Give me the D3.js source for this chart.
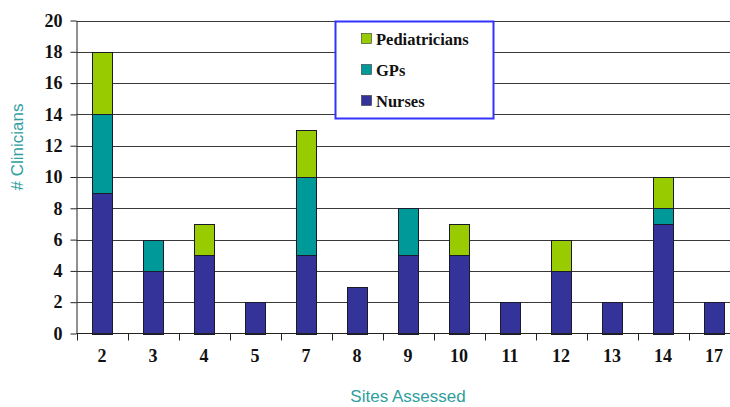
<!DOCTYPE html>
<html><head><meta charset="utf-8">
<script src="https://cdn.jsdelivr.net/npm/d3@7"></script>
<style>body{margin:0;background:#fff}svg{display:block}</style>
</head><body>
<script>
const sites = ["2","3","4","5","7","8","9","10","11","12","13","14","17"];
const nurses = [9,4,5,2,5,3,5,5,2,4,2,7,2];
const gps = [5,2,0,0,5,0,3,0,0,0,0,1,0];
const pediatricians = [4,0,2,0,3,0,0,2,0,2,0,2,0];
const seriesNames = ["Nurses","GPs","Pediatricians"];
const colors = ["#333399","#009999","#99cc00"];
const yTicks = [0,2,4,6,8,10,12,14,16,18,20];

const W = 730, H = 407;
const svg = d3.select("body").append("svg").attr("width", W).attr("height", H);
const xb = d3.scaleBand().domain(sites).range([76.5, 739.5]);
const y = d3.scaleLinear().domain([0,20]).range([333.5, 20.5]);

// gridlines
svg.append("g").selectAll("line").data(yTicks.slice(1)).join("line")
  .attr("x1", 76.5).attr("x2", W).attr("y1", d=>Math.round(y(d))+0.5).attr("y2", d=>Math.round(y(d))+0.5)
  .attr("stroke", "#3a3a3a").attr("stroke-width", 1);

const table = sites.map((s,i)=>({site:s, Nurses:nurses[i], GPs:gps[i], Pediatricians:pediatricians[i]}));
const stack = d3.stack().keys(seriesNames)(table);
svg.append("g").selectAll("g").data(stack).join("g").attr("fill",(d,i)=>colors[i])
  .selectAll("rect").data(d=>d.filter(v=>v[1]-v[0]>0)).join("rect")
  .attr("x", d=>Math.round(xb(d.data.site)+xb.bandwidth()/2-10)+0.5)
  .attr("width", 20)
  .attr("y", d=>Math.round(y(d[1]))+0.5)
  .attr("height", d=>Math.round(y(d[0]))-Math.round(y(d[1])))
  .attr("stroke", "#1a1a2a").attr("stroke-width", 1);

// y axis
const yAxis = svg.append("g").attr("transform","translate(76.5,0)")
  .call(d3.axisLeft(y).tickValues(yTicks).tickSize(6).tickPadding(8).tickSizeOuter(0));
yAxis.selectAll("line").attr("stroke","#222");
yAxis.select(".domain").attr("stroke","#222");
yAxis.selectAll("text").attr("font-family","'Liberation Serif', serif").attr("font-weight","bold")
  .attr("font-size","18px").attr("fill","#111");

// x axis
const xg = svg.append("g").attr("transform","translate(0,333.5)");
xg.append("line").attr("x1",76.5).attr("x2",W).attr("y1",0).attr("y2",0).attr("stroke","#222");
xg.selectAll("line.t").data(sites).join("line").attr("class","t")
  .attr("x1",d=>Math.round(xb(d))+0.5).attr("x2",d=>Math.round(xb(d))+0.5).attr("y1",0).attr("y2",7).attr("stroke","#222");
xg.selectAll("text").data(sites).join("text")
  .attr("x",d=>xb(d)+xb.bandwidth()/2).attr("y",28).attr("text-anchor","middle")
  .attr("font-family","'Liberation Serif', serif").attr("font-weight","bold").attr("font-size","18px").attr("fill","#111")
  .text(d=>d);

// axis titles
svg.append("text").attr("x",408).attr("y",402).attr("text-anchor","middle")
  .attr("font-family","'Liberation Sans', Arial, sans-serif").attr("font-size","17px").attr("fill","#2e9e9e")
  .text("Sites Assessed");
svg.append("text").attr("transform","translate(23,147) rotate(-90)").attr("text-anchor","middle")
  .attr("font-family","'Liberation Sans', Arial, sans-serif").attr("font-size","17px").attr("fill","#2e9e9e")
  .text("# Clinicians");

// legend
const lg = svg.append("g");
lg.append("rect").attr("x",335.5).attr("y",21.5).attr("width",158).attr("height",97)
  .attr("fill","#fff").attr("stroke","#3333ff").attr("stroke-width",2);
const legendOrder = ["Pediatricians","GPs","Nurses"];
const legendY = [39,70,101];
legendOrder.forEach((name,i)=>{
  const ci = seriesNames.indexOf(name);
  lg.append("rect").attr("x",361.5).attr("y",legendY[i]-5.5).attr("width",10).attr("height",10)
    .attr("fill",colors[ci]).attr("stroke","#333").attr("stroke-width",0.6);
  lg.append("text").attr("x",376).attr("y",legendY[i]+5.5)
    .attr("font-family","'Liberation Serif', serif").attr("font-size","16.5px").attr("fill","#111")
    .attr("font-weight","bold").text(name);
});
</script>
</body></html>
